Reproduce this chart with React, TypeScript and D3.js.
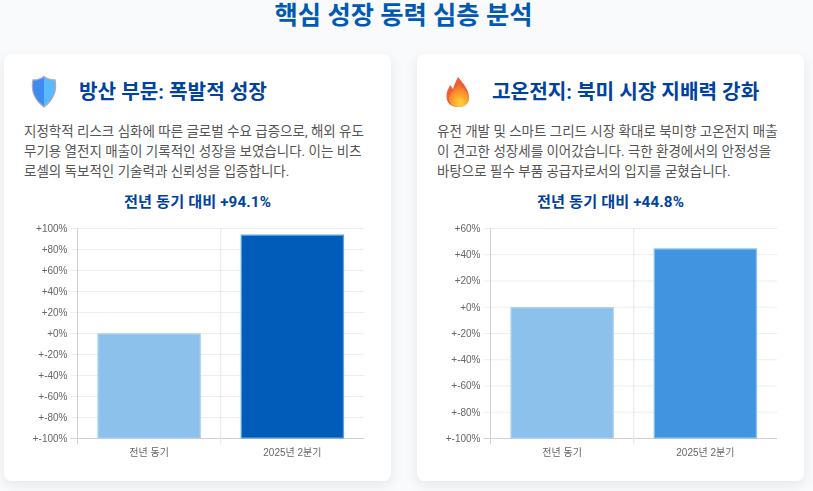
import React from "react";
import * as d3 from "d3";

const pageTitle = "핵심 성장 동력 심층 분석";
const categories = ["전년 동기", "2025년 2분기"];
const defenseValues = [0, 94.1];
const batteryValues = [0, 44.8];
const defenseTicks = [100, 80, 60, 40, 20, 0, -20, -40, -60, -80, -100];
const batteryTicks = [60, 40, 20, 0, -20, -40, -60, -80, -100];
const defenseTitle = "방산 부문: 폭발적 성장";
const batteryTitle = "고온전지: 북미 시장 지배력 강화";
const defenseBody = [
  "지정학적 리스크 심화에 따른 글로벌 수요 급증으로, 해외 유도",
  "무기용 열전지 매출이 기록적인 성장을 보였습니다. 이는 비츠",
  "로셀의 독보적인 기술력과 신뢰성을 입증합니다.",
];
const batteryBody = [
  "유전 개발 및 스마트 그리드 시장 확대로 북미향 고온전지 매출",
  "이 견고한 성장세를 이어갔습니다. 극한 환경에서의 안정성을",
  "바탕으로 필수 부품 공급자로서의 입지를 굳혔습니다.",
];
const defenseSub = "전년 동기 대비 +94.1%";
const batterySub = "전년 동기 대비 +44.8%";

const SANS = "Roboto, 'Noto Sans CJK KR', sans-serif";
const TICKF = "'Liberation Sans', 'Noto Sans CJK KR', sans-serif";

function Shield() {
  return (
    <g>
      <path d="M44 76.5 C47 79 51 80 55 80 C56.5 88 56 98 44 107 C32 98 31.5 88 33 80 C37 80 41 79 44 76.5Z" fill="#59baff" stroke="#b0a9bb" strokeWidth="1.4" />
      <path d="M44 77.5 L44 106 C32.5 98 32 88 33.6 80.6 C37.4 80.6 41 79.6 44 77.5Z" fill="#3f8cf0" />
    </g>
  );
}

function Flame() {
  return (
    <g>
      <defs>
        <radialGradient id="fl" cx="0.55" cy="0.85" r="0.85">
          <stop offset="0" stopColor="#ffd83a" />
          <stop offset="0.5" stopColor="#ff9a2a" />
          <stop offset="1" stopColor="#ee5a30" />
        </radialGradient>
      </defs>
      <path d="M458 77 C463 83 469 90 469 97 C469 104 464 107 458 107 C451 107 446.5 103 446.5 96 C446.5 91 449 88 450 85 C452 87 452 88 453 89 C454 85 456 81 458 77Z" fill="#e8603a" />
      <path d="M458.5 83 C463 88 469 93 469 98 C469 104 464 107 458.5 107 C452 107 449 103 449 98 C449 93 455 90 458.5 83Z" fill="url(#fl)" />
    </g>
  );
}

function Bars(props: { ox: number; values: number[]; ticks: number[]; color: string; edge: string }) {
  const { ox, values, ticks, color, edge } = props;
  const left = ox + 77.5;
  const right = ox + 364;
  const top = 228.5;
  const bottom = 438.5;
  const x = d3.scaleBand<string>().domain(categories).range([left, right]).paddingInner(0).paddingOuter(0);
  const y = d3.scaleLinear().domain([-100, ticks[0]]).range([bottom, top]);
  const bw = x.bandwidth();
  const barW = bw * 0.72;
  const fills = ["#8cc1eb", color];
  const edges = ["#a9d0f0", edge];
  return (
    <g filter="url(#soft)">
      {ticks.map((t) => (
        <g key={t}>
          <line x1={left - 7} x2={right} y1={y(t)} y2={y(t)} stroke={t === -100 ? "#d0d0d0" : "#eeeeee"} strokeWidth={1} />
          <text x={left - 10} y={y(t) + 3.4} textAnchor="end" fontSize={10} fontFamily={TICKF} fill="#666">
            {"+" + t + "%"}
          </text>
        </g>
      ))}
      <line x1={left} x2={left} y1={top} y2={bottom + 6} stroke="#d0d0d0" />
      <line x1={left + bw} x2={left + bw} y1={top} y2={bottom + 6} stroke="#e6e6e6" />
      {categories.map((c, i) => {
        const bx = (x(c) as number) + (bw - barW) / 2;
        return (
          <g key={c}>
            <rect x={bx + 0.5} y={y(values[i]) + 0.5} width={barW - 1} height={bottom - y(values[i]) - 1} fill={fills[i]} stroke={edges[i]} strokeWidth={1.3} />
            <text x={(x(c) as number) + bw / 2} y={456} textAnchor="middle" fontSize={10} fontFamily={TICKF} fill="#666">
              {c}
            </text>
          </g>
        );
      })}
    </g>
  );
}

function Card(props: { ox: number; title: string; body: string[]; sub: string; values: number[]; ticks: number[]; color: string; edge: string; icon: React.ReactNode }) {
  const { ox, title, body, sub, values, ticks, color, edge, icon } = props;
  return (
    <g>
      <rect x={ox + 4} y={54} width={387} height={427} rx={8} fill="#fff" filter="url(#cardShadow)" />
      {icon}
      <text x={ox + 79} y={99} fontSize={20.2} fontWeight={700} fontFamily={SANS} fill="#00429f">{title}</text>
      {body.map((l, i) => (
        <text key={i} x={ox + 24} y={136 + i * 20} fontSize={13.5} fontFamily={SANS} fill="#555">{l}</text>
      ))}
      <text x={ox + 197.5} y={207} textAnchor="middle" fontSize={15.2} letterSpacing={0.12} fontWeight={700} fontFamily={SANS} fill="#00429f">{sub}</text>
      <Bars ox={ox} values={values} ticks={ticks} color={color} edge={edge} />
    </g>
  );
}

export default function App() {
  return (
    <svg width={813} height={491} viewBox="0 0 813 491" style={{ position: "absolute", left: 0, top: 0, background: "#f8fafc" }}>
      <defs>
        <filter id="cardShadow" x="-10%" y="-10%" width="120%" height="120%">
          <feDropShadow dx="0" dy="4" stdDeviation="6" floodColor="#000" floodOpacity="0.08" />
        </filter>
        <filter id="soft" x="-2%" y="-2%" width="104%" height="104%">
          <feGaussianBlur stdDeviation="0.3" />
        </filter>
      </defs>
      <text x={403.5} y={24} textAnchor="middle" fontSize={25.3} fontWeight={700} fontFamily={SANS} fill="#0059b3">{pageTitle}</text>
      <Card ox={0} title={defenseTitle} body={defenseBody} sub={defenseSub} values={defenseValues} ticks={defenseTicks} color="#005bb8" edge="#5b9fe0" icon={<Shield />} />
      <Card ox={413} title={batteryTitle} body={batteryBody} sub={batterySub} values={batteryValues} ticks={batteryTicks} color="#4094e0" edge="#8cc1eb" icon={<Flame />} />
    </svg>
  );
}
